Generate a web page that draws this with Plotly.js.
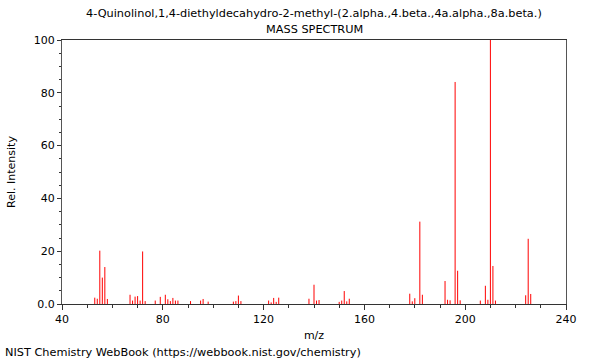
<!DOCTYPE html>
<html>
<head>
<meta charset="utf-8">
<script src="https://cdn.plot.ly/plotly-3.0.1.min.js"></script>
<style>html,body{margin:0;padding:0;background:#fff;}#chart{width:600px;height:360px;}</style>
</head>
<body>
<div id="chart"></div>
<script>
var mz = [53,54,55,56,57,58,67,68,69,70,71,72,73,77,79,81,82,83,84,85,86,91,95,96,98,
          108,109,110,111,122,123,124,125,126,138,140,141,142,150,151,152,153,154,
          178,179,180,182,183,192,193,194,196,197,198,206,208,209,210,211,212,224,225,226];
var intensity = [2.4,2.0,20.2,10.0,14.0,1.9,3.5,1.3,2.8,3.0,1.3,19.9,1.1,1.3,2.7,3.5,1.8,1.1,2.3,1.3,1.3,1.1,1.3,1.9,0.9,
          0.9,1.1,3.2,1.1,1.3,0.6,2.3,0.8,2.4,2.0,7.3,1.3,1.5,0.8,1.3,4.9,1.0,2.0,
          3.9,1.0,2.2,31.2,3.5,8.7,1.6,1.4,84.1,12.6,1.4,1.3,6.9,1.6,100,14.4,1.3,3.3,24.7,3.8];
var xTickVals = [40,80,120,160,200,240];
var xTickText = ['40','80','120','160','200','240'];
var yTickVals = [0,20,40,60,80,100];
var yTickText = ['0.0','20','40','60','80','100'];
var titleLines = ['4-Quinolinol,1,4-diethyldecahydro-2-methyl-(2.alpha.,4.beta.,4a.alpha.,8a.beta.)','MASS SPECTRUM'];
var footer = 'NIST Chemistry WebBook (https://webbook.nist.gov/chemistry)';

var xs = [], ys = [];
for (var i = 0; i < mz.length; i++) {
  xs.push(mz[i], mz[i], null);
  ys.push(0, intensity[i], null);
}
function f(s) { return {family: 'DejaVu Sans', size: s, color: '#000'}; }
var trace = {x: xs, y: ys, type: 'scatter', mode: 'lines',
  line: {color: '#ff0000', width: 1}, hoverinfo: 'none', connectgaps: false};
var layout = {
  width: 600, height: 360,
  margin: {l: 62, r: 34, t: 40, b: 56},
  paper_bgcolor: '#fff', plot_bgcolor: '#fff',
  showlegend: false,
  font: f(11),
  xaxis: {range: [40, 240], tickvals: xTickVals, ticktext: xTickText, ticks: 'outside', ticklen: 5,
    tickcolor: '#333', tickwidth: 1, showline: true, linecolor: '#333', linewidth: 1, mirror: true,
    showgrid: false, zeroline: false, tickfont: f(11),
    minor: {dtick: 10, tick0: 40, ticks: 'outside', ticklen: 3, tickcolor: '#333', showgrid: false},
    title: {text: 'm/z', font: f(11), standoff: 6}},
  yaxis: {range: [0, 100], tickvals: yTickVals, ticktext: yTickText, ticks: 'outside', ticklen: 4,
    tickcolor: '#333', tickwidth: 1, showline: true, linecolor: '#555', linewidth: 1, mirror: true,
    showgrid: false, zeroline: false, tickfont: f(11),
    minor: {dtick: 5, tick0: 0, ticks: 'outside', ticklen: 2, tickcolor: '#333', showgrid: false},
    title: {text: 'Rel. Intensity', font: f(11), standoff: 15}},
  annotations: [
    {text: titleLines[0], xref: 'paper', yref: 'paper', x: 0.5, xanchor: 'center',
      y: 1.102, yanchor: 'middle', showarrow: false, font: f(11.3)},
    {text: titleLines[1], xref: 'paper', yref: 'paper', x: 0.5, xanchor: 'center',
      y: 1.038, yanchor: 'middle', showarrow: false, font: f(11.3)},
    {text: footer, xref: 'paper', yref: 'paper', x: -0.117, xanchor: 'left',
      y: -0.185, yanchor: 'middle', showarrow: false, font: f(11.3)}]
};
Plotly.newPlot('chart', [trace], layout, {staticPlot: true, displayModeBar: false});
</script>
</body>
</html>
